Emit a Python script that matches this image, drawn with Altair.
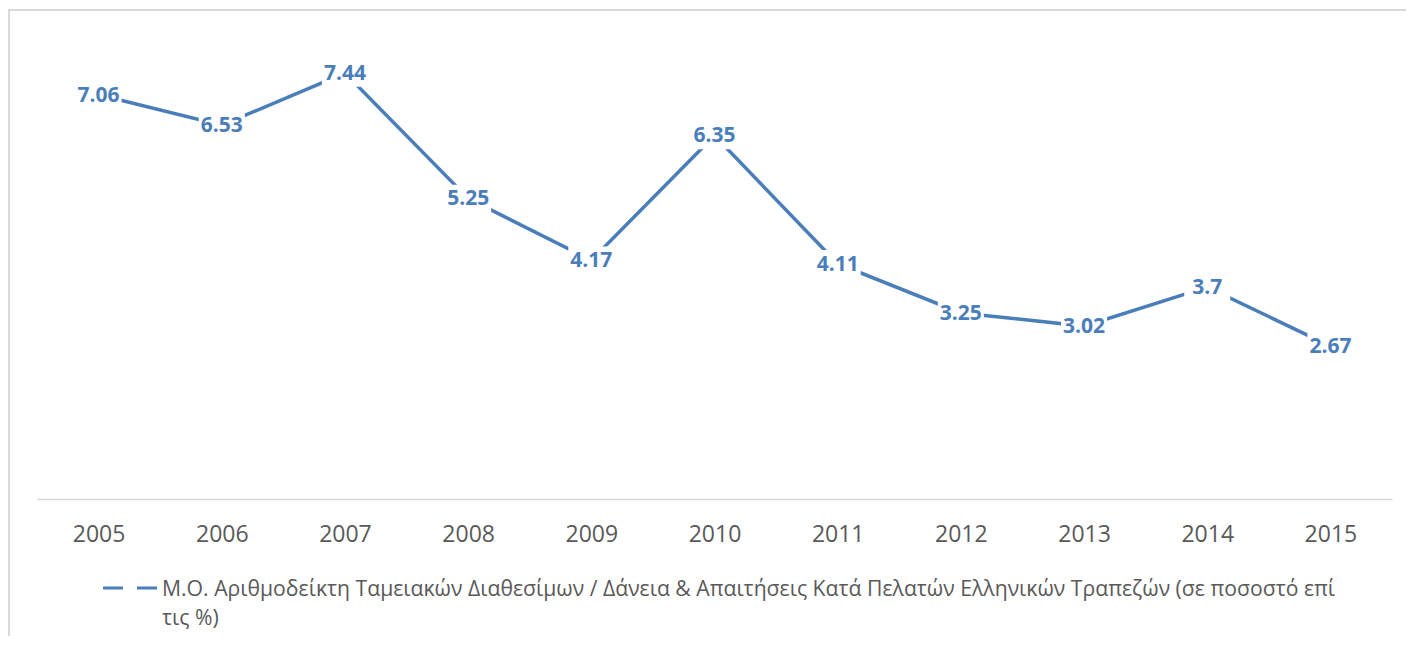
import altair as alt
import pandas as pd

YEARS = ["2005", "2006", "2007", "2008", "2009", "2010", "2011", "2012", "2013", "2014", "2015"]
VALUES = [7.06, 6.53, 7.44, 5.25, 4.17, 6.35, 4.11, 3.25, 3.02, 3.7, 2.67]
LABELS = ["7.06", "6.53", "7.44", "5.25", "4.17", "6.35", "4.11", "3.25", "3.02", "3.7", "2.67"]
SERIES_NAME = ("Μ.Ο. Αριθμοδείκτη Ταμειακών Διαθεσίμων / Δάνεια & Απαιτήσεις Κατά Πελατών "
               "Ελληνικών Τραπεζών (σε ποσοστό επί\nτις %)")

BLUE = "#4a7ebb"
GREY = "#595959"
FONT = "Open Sans"

df = pd.DataFrame({"year": YEARS, "value": VALUES, "label": LABELS})
legend_df = pd.DataFrame({"name": [SERIES_NAME]})

x = alt.X("year:O", sort=YEARS, title=None,
          scale=alt.Scale(paddingInner=0, paddingOuter=0),
          axis=alt.Axis(labelAngle=0, labelFont=FONT, labelFontSize=23, labelColor=GREY,
                        ticks=False, tickSize=0, labelPadding=24, domainColor="#d9d9d9",
                        domainWidth=1.5, grid=False))
y = alt.Y("value:Q", title=None, scale=alt.Scale(domain=[0, 8], nice=False, zero=True), axis=None)

base = alt.Chart(df)

line = base.mark_line(color=BLUE, strokeWidth=3.5).encode(x=x, y=y)

boxes = base.mark_point(shape="M-1,-0.6H1V0.6H-1Z", filled=True, fill="white", opacity=1,
                        strokeWidth=0, size=2116).encode(x=x, y=y)

labels = base.mark_text(font=FONT, fontSize=21, fontWeight="bold", color=BLUE,
                        align="center", baseline="middle", dy=1).encode(x=x, y=y, text="label:N")

frame = alt.Chart(legend_df).mark_rect(fill="transparent", stroke="#d9d9d9", strokeWidth=2).encode(
    x=alt.value(-28), x2=alt.value(1420), y=alt.value(-31), y2=alt.value(700))

legend_symbol = alt.Chart(legend_df).mark_rule(color=BLUE, strokeWidth=3, strokeDash=[20, 14]).encode(
    x=alt.value(66), x2=alt.value(120), y=alt.value(547))

legend_text = alt.Chart(legend_df).mark_text(font=FONT, fontSize=21.2, color=GREY, align="left",
                                             baseline="alphabetic", lineBreak="\n",
                                             lineHeight=29).encode(
    x=alt.value(125), y=alt.value(555), text="name:N")

chart = alt.layer(frame, line, boxes, labels, legend_symbol, legend_text).properties(
    width=1355, height=458, autosize="none", background="white",
    padding={"left": 29, "top": 33, "right": 14, "bottom": 137},
).configure_view(stroke="transparent", strokeWidth=0)

chart.save("out.html", embed_options={"renderer": "svg", "actions": False})
